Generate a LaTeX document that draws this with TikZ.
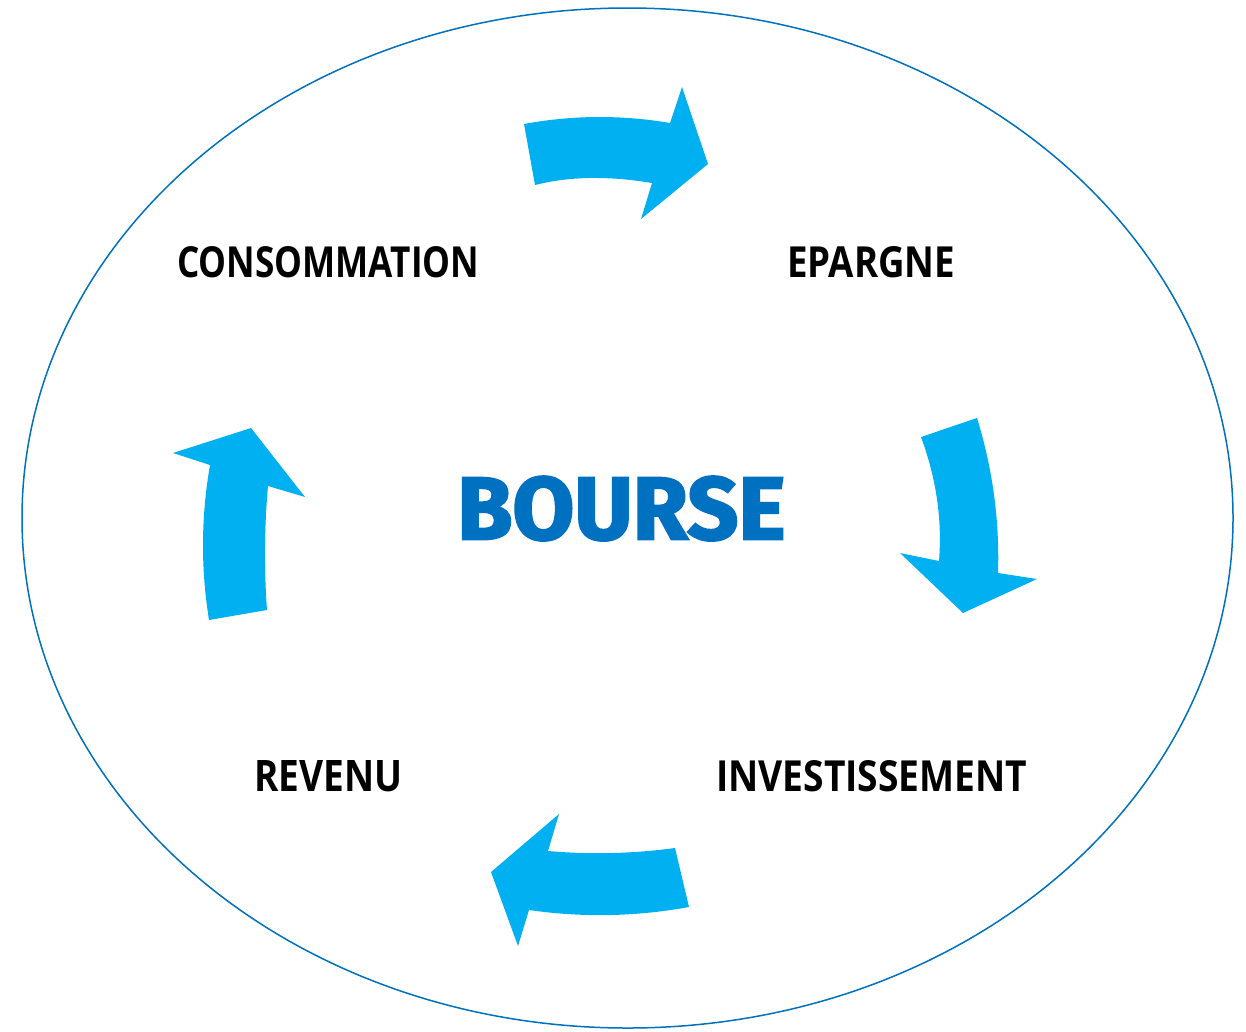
\documentclass[tikz,border=0pt]{standalone}
\usepackage{fontspec}
\setmainfont{Open Sans}
\newfontfamily\boursefont[FakeBold=2.5]{Fira Sans}
\definecolor{arrowblue}{HTML}{00B0F0}
\definecolor{darkblue}{HTML}{0070C0}
\begin{document}
\begin{tikzpicture}[x=1pt,y=-1pt,
  blockarrow/.style={fill=arrowblue,draw=none},
  lbl/.style={inner sep=0pt,anchor=south west,text=black}]
\useasboundingbox (0,0) rectangle (1246,1031);
\draw[darkblue,line width=1.5pt] (627.5,518) ellipse [x radius=605.5,y radius=510];
% top arrow
\path[blockarrow] (524,124) .. controls (572.7,115) and (621.3,114.7) .. (670,123)
  -- (682,87) -- (708,164) -- (641,219) -- (652,183)
  .. controls (608.3,175.7) and (569.3,176.3) .. (535,185) -- cycle;
% right arrow
\path[blockarrow] (921,437) -- (977,418)
  .. controls (992.7,469) and (999.7,520.7) .. (998,573)
  -- (1037,579) -- (963,613) -- (900,553) -- (939,561)
  .. controls (942.3,519.7) and (936.3,478.3) .. (921,437) -- cycle;
% bottom arrow
\path[blockarrow] (675,848) -- (689,907)
  .. controls (635.7,916.7) and (582.3,917.7) .. (529,910)
  -- (518,946) -- (491,872) -- (559,814) -- (548,851)
  .. controls (590.3,854.7) and (632.7,853.7) .. (675,848) -- cycle;
% left arrow
\path[blockarrow] (209,620) -- (267,610)
  .. controls (264,569) and (264.3,527.3) .. (268,486)
  -- (305,497) -- (251,428) -- (173,453) -- (210,465)
  .. controls (201,516.7) and (200.7,568.3) .. (209,620) -- cycle;
% labels
\node[lbl] (cons) at (177,278) {\resizebox{302pt}{31pt}{\bfseries CONSOMMATION}};
\node[lbl] (epar) at (787,278) {\resizebox{168pt}{31pt}{\bfseries EPARGNE}};
\node[lbl] (inv) at (716,792) {\resizebox{311pt}{31pt}{\bfseries INVESTISSEMENT}};
\node[lbl] (rev) at (254,792) {\resizebox{148pt}{31pt}{\bfseries REVENU}};
\node[lbl,text=darkblue] (bourse) at (457,541) {\resizebox{328pt}{63pt}{\boursefont\bfseries BOURSE}};
\end{tikzpicture}
\end{document}
